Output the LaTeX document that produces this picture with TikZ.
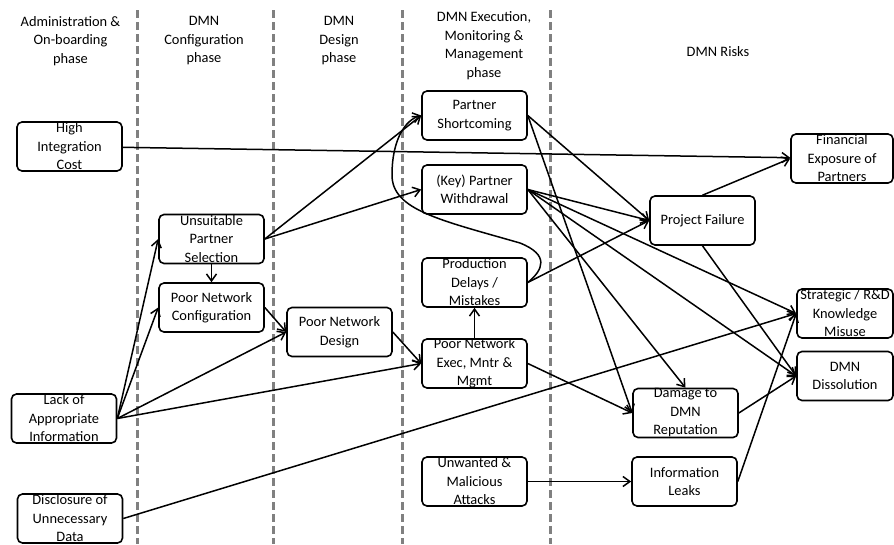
\documentclass[tikz,border=0pt]{standalone}
\usepackage{fontspec}
\setmainfont{Carlito}
\usepackage{tikz}
\usetikzlibrary{positioning, arrows.meta}

\newcommand{\dmnfont}{\fontsize{14.4pt}{18.5pt}\selectfont}

\tikzset{
  riskbox/.style={draw, rounded corners=5pt, line width=1.6pt, minimum width=105pt,
    minimum height=49pt, inner xsep=2pt, inner ysep=-1pt, align=center, font=\dmnfont},
  phasehead/.style={align=center, font=\dmnfont},
  phasesep/.style={draw=gray, line width=3pt, dash pattern=on 8pt off 4pt},
  cause/.style={line width=1.5pt, -{Straight Barb[length=7pt,width=10pt]}}
}

\begin{document}
\begin{tikzpicture}[x=1pt, y=-1pt]
        \useasboundingbox (0,0) rectangle (894,544);
        % phase separators
        \foreach \x in {137,273,402,550}
        {
        \draw[phasesep] (\x,10) -- (\x,544);
        }

        % headings
        \node[phasehead] (hadm) at (70.5,41) {Administration \&\\On-boarding\\phase};
        \node[phasehead] (hcfg) at (204,41) {DMN\\Configuration\\phase};
        \node[phasehead] (hdes) at (339,41) {DMN\\Design\\phase};
        \node[phasehead] (hexe) at (484,45.5) {DMN Execution,\\Monitoring \&\\Management\\phase};
        \node[phasehead] (hrsk) at (718,52) {DMN Risks};

        % causes
        \node[riskbox] (hic) at (69.5,146.5) {High\\Integration\\Cost};
        \node[riskbox] (lai) at (64,418.5) {Lack of\\Appropriate\\Information};
        \node[riskbox] (dud) at (70,518.5) {Disclosure of\\Unnecessary\\Data};
        \node[riskbox] (ups) at (211.5,239) {Unsuitable\\Partner\\Selection};
        \node[riskbox] (pnc) at (211.5,307.5) {Poor Network\\Configuration};
        \node[riskbox] (pnd) at (339.5,332) {Poor Network\\Design};
        \node[riskbox] (psc) at (474.5,115.5) {Partner\\Shortcoming};
        \node[riskbox] (kpw) at (474.5,189.5) {(Key) Partner\\Withdrawal};
        \node[riskbox] (pdm) at (474.5,282.5) {Production\\Delays /\\Mistakes};
        \node[riskbox] (pne) at (474.5,363.5) {Poor Network\\Exec, Mntr \&\\Mgmt};
        \node[riskbox] (uma) at (474.5,481.5) {Unwanted \&\\Malicious\\Attacks};

        % risks
        \node[riskbox] (pjf) at (702.5,220.5) {Project Failure};
        \node[riskbox] (ddr) at (685.5,413) {Damage to\\DMN\\Reputation};
        \node[riskbox] (ilk) at (684.5,481.5) {Information\\Leaks};
        \node[riskbox, minimum width=102pt] (fep) at (842,158.5) {Financial\\Exposure of\\Partners};
        \node[riskbox, minimum width=96pt] (skm) at (845,313.5) {Strategic / R\&D\\Knowledge\\Misuse};
        \node[riskbox, minimum width=96pt] (dsl) at (845,376) {DMN\\Dissolution};

        % links
        \draw[cause] (hic) -- (fep);
        \draw[cause] (lai.east) -- (ups.west);
        \draw[cause] (lai.east) -- (pnc.west);
        \draw[cause] (lai.east) -- (pnd.west);
        \draw[cause] (lai.east) -- (pne.west);
        \draw[cause] (dud.east) -- (skm.west);
        \draw[cause] (ups.south) -- (pnc.north);
        \draw[cause] (ups.east) -- (psc.west);
        \draw[cause] (ups.east) -- (kpw.west);
        \draw[cause] (pnc.east) -- (pnd.west);
        \draw[cause] (pnd.east) -- (pne.west);
        \draw[cause] (pne.north) -- (pdm.south);
        \draw[cause] (pdm.east) .. controls (543,270) and (550,255) .. (520,243)
                .. controls (440,220) and (392,210) .. (392,175)
                .. controls (392,140) and (405,120) .. (psc.west);
        \draw[cause] (pdm.east) -- (pjf.west);
        \draw[cause] (psc.east) -- (pjf.west);
        \draw[cause] (psc.east) -- (ddr.west);
        \draw[cause] (pne.east) -- (ddr.west);
        \draw[cause] (kpw.east) -- (pjf.west);
        \draw[cause] (kpw.east) -- (ddr.north);
        \draw[cause] (kpw.east) -- (skm.west);
        \draw[cause] (kpw.east) -- (dsl.west);
        \draw[cause] (uma.east) -- (ilk.west);
        \draw[cause] (pjf.north) -- (fep.west);
        \draw[cause] (pjf.south) -- (dsl.west);
        \draw[cause] (ddr.east) -- (dsl.west);
        \draw[cause] (ilk.east) -- (skm.west);
\end{tikzpicture}
\end{document}
